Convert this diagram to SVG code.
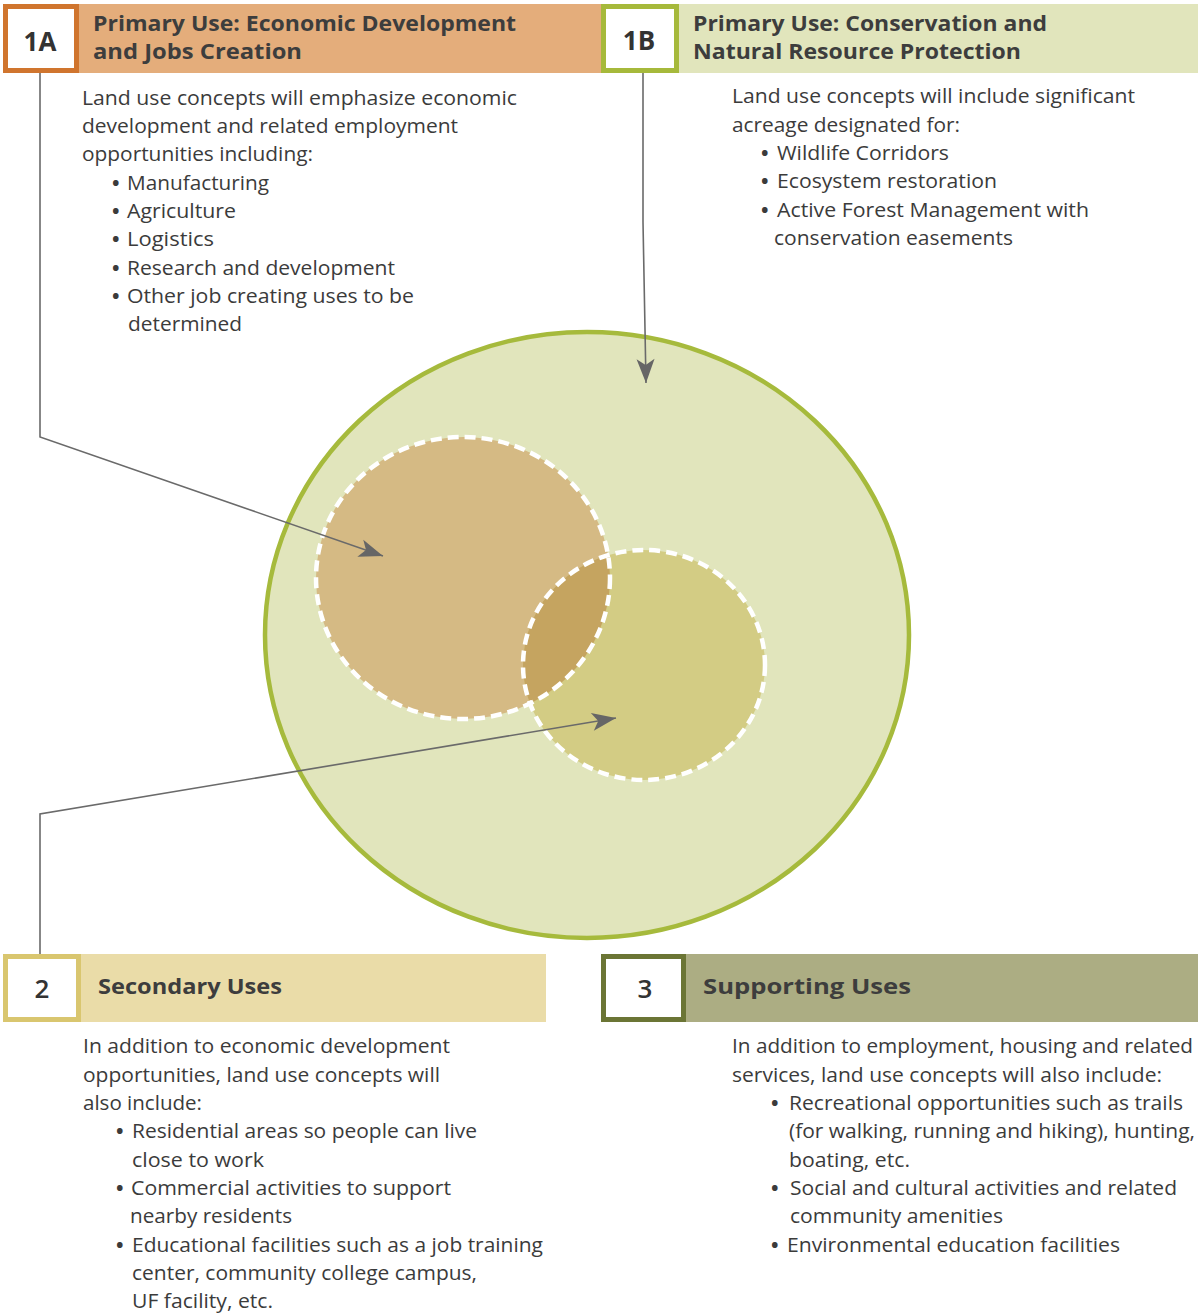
<svg xmlns="http://www.w3.org/2000/svg" width="1198" height="1314" viewBox="0 0 1198 1314">
<style>
.body{font-family:"Open Sans","Liberation Sans",sans-serif;font-size:20px;fill:#3b3b3b}
.bul{font-family:"Open Sans","Liberation Sans",sans-serif;font-size:20px;font-weight:bold;fill:#3b3b3b}
.head{font-family:"Open Sans","Liberation Sans",sans-serif;font-size:21px;font-weight:bold;fill:#3d3d3d}
.num{font-family:"Open Sans","Liberation Sans",sans-serif;font-size:26px;font-weight:bold;fill:#333;text-anchor:middle}
.conn{fill:none;stroke:#6a6a6a;stroke-width:1.6}
.dash{fill:none;stroke:#fff;stroke-width:4.5;stroke-dasharray:11 6}
</style>
<defs>
<marker id="arr" markerUnits="userSpaceOnUse" markerWidth="30" markerHeight="22" viewBox="-26 -11 28 22" refX="0" refY="0" orient="auto">
<path d="M-24,-9 L0,0 L-24,9 L-18,0 Z" fill="#666"/>
</marker>
<clipPath id="c2"><ellipse cx="644" cy="665" rx="121" ry="115"/></clipPath>
</defs>
<rect width="1198" height="1314" fill="#fff"/>

<g id="venn">
<ellipse cx="587" cy="635" rx="322" ry="303" fill="#e1e5bc" stroke="#a6ba3c" stroke-width="4.5"/>
<ellipse cx="463" cy="578" rx="147" ry="141" fill="#d5ba84"/>
<ellipse cx="644" cy="665" rx="121" ry="115" fill="#d3cc84"/>
<ellipse cx="463" cy="578" rx="147" ry="141" fill="#c5a460" clip-path="url(#c2)"/>
<ellipse class="dash" cx="463" cy="578" rx="147" ry="141"/>
<ellipse class="dash" cx="644" cy="665" rx="121" ry="115"/>
</g>

<g id="connectors">
<polyline class="conn" points="40,73 40,437 383,556" marker-end="url(#arr)"/>
<polyline class="conn" points="643,73 643,222 646,383" marker-end="url(#arr)"/>
<polyline class="conn" points="40,954 40,814 616,718" marker-end="url(#arr)"/>
</g>

<g id="node-1A">
<rect x="79" y="4" width="522" height="69" fill="#e4ad7b"/>
<rect x="5.5" y="6.5" width="71" height="64" fill="#fff" stroke="#d0752e" stroke-width="5"/>
<text class="num" x="40" y="51">1A</text>
<text class="head" x="93" y="31" textLength="423" lengthAdjust="spacingAndGlyphs">Primary Use: Economic Development</text>
<text class="head" x="93" y="59" textLength="209" lengthAdjust="spacingAndGlyphs">and Jobs Creation</text>
<text class="body" x="82" y="105" textLength="435" lengthAdjust="spacingAndGlyphs">Land use concepts will emphasize economic</text>
<text class="body" x="82" y="133" textLength="376" lengthAdjust="spacingAndGlyphs">development and related employment</text>
<text class="body" x="82" y="161" textLength="231" lengthAdjust="spacingAndGlyphs">opportunities including:</text>
<text class="bul" x="112" y="190">•</text>
<text class="body" x="127" y="190" textLength="142" lengthAdjust="spacingAndGlyphs">Manufacturing</text>
<text class="bul" x="112" y="218">•</text>
<text class="body" x="127" y="218" textLength="109" lengthAdjust="spacingAndGlyphs">Agriculture</text>
<text class="bul" x="112" y="246">•</text>
<text class="body" x="127" y="246" textLength="87" lengthAdjust="spacingAndGlyphs">Logistics</text>
<text class="bul" x="112" y="275">•</text>
<text class="body" x="127" y="275" textLength="268" lengthAdjust="spacingAndGlyphs">Research and development</text>
<text class="bul" x="112" y="303">•</text>
<text class="body" x="127" y="303" textLength="287" lengthAdjust="spacingAndGlyphs">Other job creating uses to be</text>
<text class="body" x="128" y="331" textLength="114" lengthAdjust="spacingAndGlyphs">determined</text>
</g>

<g id="node-1B">
<rect x="601" y="4" width="597" height="69" fill="#e1e5bc"/>
<rect x="603.5" y="6.5" width="73" height="64" fill="#fff" stroke="#a6b93b" stroke-width="5"/>
<text class="num" x="639" y="50">1B</text>
<text class="head" x="693" y="31" textLength="354" lengthAdjust="spacingAndGlyphs">Primary Use: Conservation and</text>
<text class="head" x="693" y="59" textLength="328" lengthAdjust="spacingAndGlyphs">Natural Resource Protection</text>
<text class="body" x="732" y="103" textLength="403" lengthAdjust="spacingAndGlyphs">Land use concepts will include significant</text>
<text class="body" x="732" y="132" textLength="228" lengthAdjust="spacingAndGlyphs">acreage designated for:</text>
<text class="bul" x="761" y="160">•</text>
<text class="body" x="777" y="160" textLength="172" lengthAdjust="spacingAndGlyphs">Wildlife Corridors</text>
<text class="bul" x="761" y="188">•</text>
<text class="body" x="777" y="188" textLength="220" lengthAdjust="spacingAndGlyphs">Ecosystem restoration</text>
<text class="bul" x="761" y="217">•</text>
<text class="body" x="777" y="217" textLength="312" lengthAdjust="spacingAndGlyphs">Active Forest Management with</text>
<text class="body" x="774" y="245" textLength="239" lengthAdjust="spacingAndGlyphs">conservation easements</text>
</g>

<g id="node-2">
<rect x="81" y="954" width="465" height="68" fill="#eadca8"/>
<rect x="5.5" y="956.5" width="73" height="63" fill="#fff" stroke="#d9c66f" stroke-width="5"/>
<text class="num" x="42" y="998" style="font-weight:600">2</text>
<text class="head" x="98" y="994" textLength="184" lengthAdjust="spacingAndGlyphs">Secondary Uses</text>
<text class="body" x="83" y="1053" textLength="367" lengthAdjust="spacingAndGlyphs">In addition to economic development</text>
<text class="body" x="83" y="1082" textLength="357" lengthAdjust="spacingAndGlyphs">opportunities, land use concepts will</text>
<text class="body" x="83" y="1110" textLength="119" lengthAdjust="spacingAndGlyphs">also include:</text>
<text class="bul" x="116" y="1138">•</text>
<text class="body" x="132" y="1138" textLength="345" lengthAdjust="spacingAndGlyphs">Residential areas so people can live</text>
<text class="body" x="132" y="1167" textLength="132" lengthAdjust="spacingAndGlyphs">close to work</text>
<text class="bul" x="116" y="1195">•</text>
<text class="body" x="131" y="1195" textLength="320" lengthAdjust="spacingAndGlyphs">Commercial activities to support</text>
<text class="body" x="130" y="1223" textLength="162" lengthAdjust="spacingAndGlyphs">nearby residents</text>
<text class="bul" x="116" y="1252">•</text>
<text class="body" x="132" y="1252" textLength="411" lengthAdjust="spacingAndGlyphs">Educational facilities such as a job training</text>
<text class="body" x="132" y="1280" textLength="345" lengthAdjust="spacingAndGlyphs">center, community college campus,</text>
<text class="body" x="132" y="1308" textLength="141" lengthAdjust="spacingAndGlyphs">UF facility, etc.</text>
</g>

<g id="node-3">
<rect x="686" y="954" width="512" height="68" fill="#acad83"/>
<rect x="603.5" y="956.5" width="80" height="63" fill="#fff" stroke="#6b7535" stroke-width="5"/>
<text class="num" x="645" y="998" style="font-weight:600">3</text>
<text class="head" x="703" y="994" textLength="208" lengthAdjust="spacingAndGlyphs">Supporting Uses</text>
<text class="body" x="732" y="1053" textLength="461" lengthAdjust="spacingAndGlyphs">In addition to employment, housing and related</text>
<text class="body" x="732" y="1082" textLength="430" lengthAdjust="spacingAndGlyphs">services, land use concepts will also include:</text>
<text class="bul" x="771" y="1110">•</text>
<text class="body" x="789" y="1110" textLength="394" lengthAdjust="spacingAndGlyphs">Recreational opportunities such as trails</text>
<text class="body" x="789" y="1138" textLength="406" lengthAdjust="spacingAndGlyphs">(for walking, running and hiking), hunting,</text>
<text class="body" x="789" y="1167" textLength="121" lengthAdjust="spacingAndGlyphs">boating, etc.</text>
<text class="bul" x="771" y="1195">•</text>
<text class="body" x="790" y="1195" textLength="387" lengthAdjust="spacingAndGlyphs">Social and cultural activities and related</text>
<text class="body" x="790" y="1223" textLength="213" lengthAdjust="spacingAndGlyphs">community amenities</text>
<text class="bul" x="771" y="1252">•</text>
<text class="body" x="787" y="1252" textLength="333" lengthAdjust="spacingAndGlyphs">Environmental education facilities</text>
</g>
</svg>
